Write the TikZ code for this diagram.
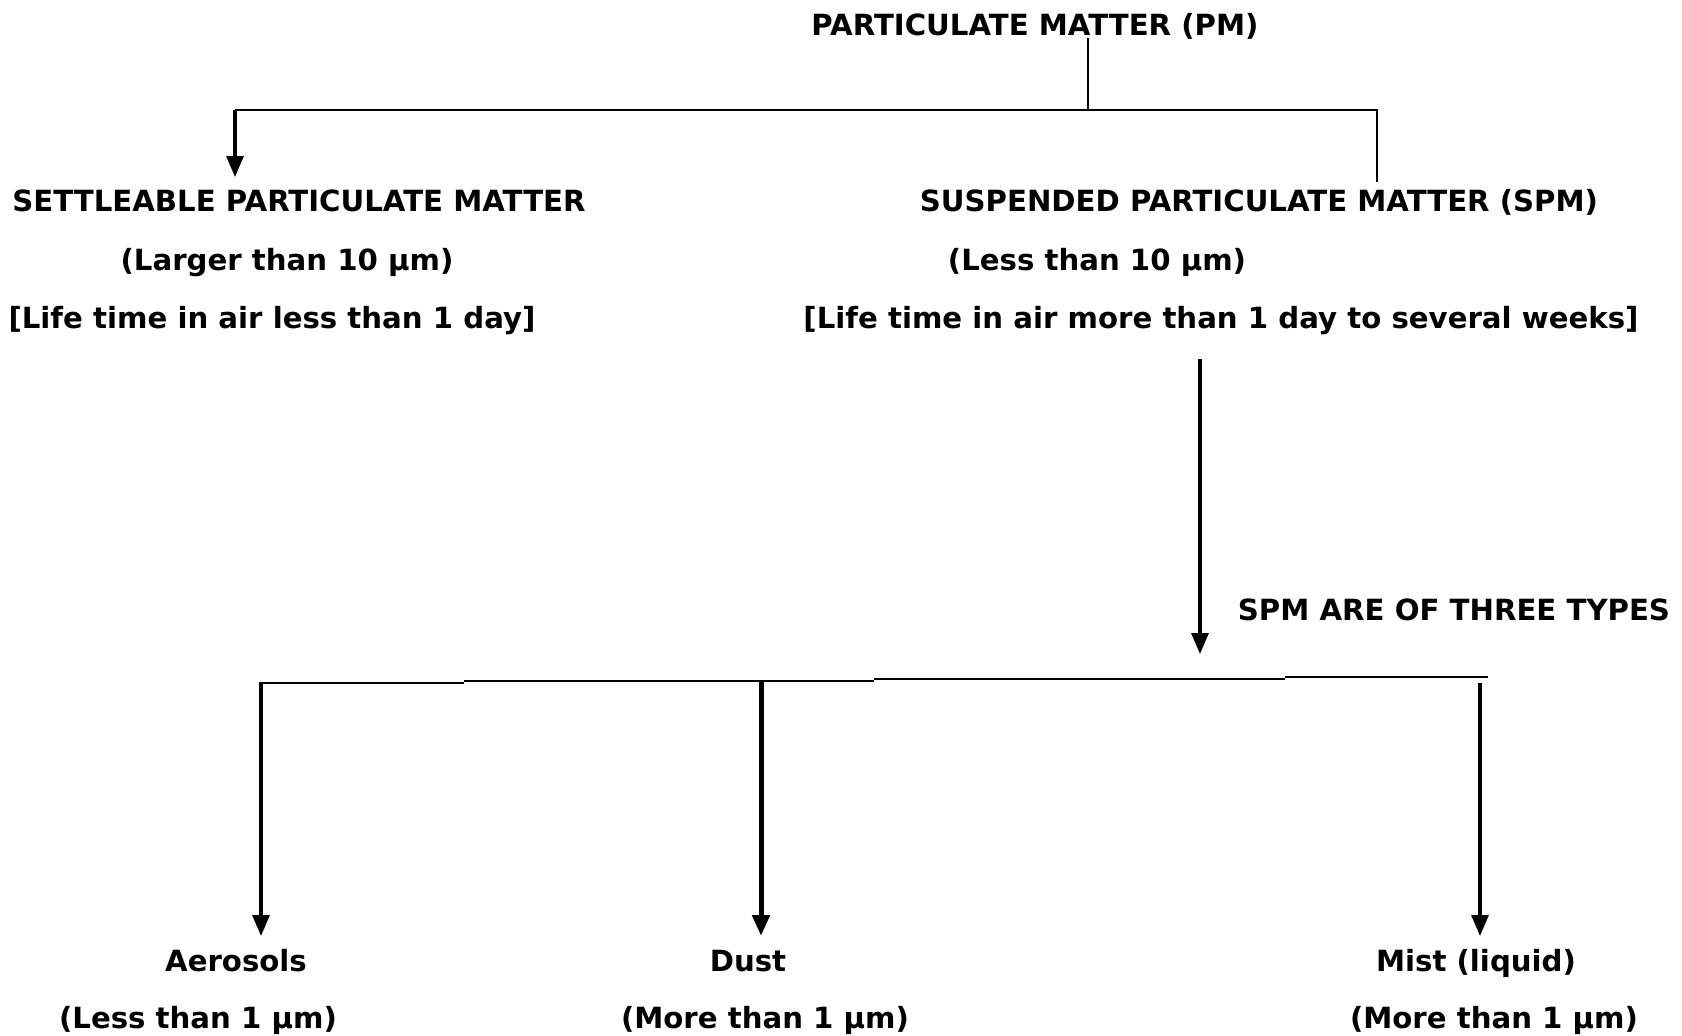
\documentclass[tikz,border=0pt]{standalone}
\usepackage{fontspec}
\setmainfont{DejaVu Sans}
\usetikzlibrary{arrows.meta}
\begin{document}
\begin{tikzpicture}[x=1pt,y=-1pt,
  lbl/.style={font=\fontsize{29.2}{35}\selectfont\bfseries, inner sep=0pt, anchor=base},
  conn/.style={line width=2.2pt},
  arr/.style={line width=3.2pt, -{Triangle[width=17pt,length=21pt]}},
  thickarr/.style={arr, line width=5pt},
]
\useasboundingbox (0,0) rectangle (1682,1036);
% texts
\node[lbl] (pm) at (1035,35) {PARTICULATE MATTER (PM)};
\node[lbl] (set1) at (299,211) {SETTLEABLE PARTICULATE MATTER};
\node[lbl] (set2) at (287,270) {(Larger than 10 µm)};
\node[lbl] (set3) at (272,328) {[Life time in air less than 1 day]};
\node[lbl] (spm1) at (1259,211) {SUSPENDED PARTICULATE MATTER (SPM)};
\node[lbl] (spm2) at (1097,270) {(Less than 10 µm)};
\node[lbl] (spm3) at (1221,328) {[Life time in air more than 1 day to several weeks]};
\node[lbl] (types) at (1454,620) {SPM ARE OF THREE TYPES};
\node[lbl] (aer1) at (236,971) {Aerosols};
\node[lbl] (aer2) at (198,1028) {(Less than 1 µm)};
\node[lbl] (dust1) at (748,971) {Dust};
\node[lbl] (dust2) at (765,1028) {(More than 1 µm)};
\node[lbl] (mist1) at (1476,971) {Mist (liquid)};
\node[lbl] (mist2) at (1494,1028) {(More than 1 µm)};
% junction coordinates
\coordinate (pmtop) at (1088,38);
\coordinate (j0) at (1088,110);
\coordinate (jl) at (235,110);
\coordinate (jr) at (1377,110);
\coordinate (srend) at (1377,182);
\coordinate (settop) at (235,177);
\coordinate (spmbot) at (1200,359);
\coordinate (barin) at (1200,654);
\coordinate (b1) at (261,683);
\coordinate (b1e) at (464,683);
\coordinate (b2) at (464,681);
\coordinate (b2e) at (874,681);
\coordinate (b3) at (874,679);
\coordinate (b3e) at (1285,679);
\coordinate (b4) at (1285,677);
\coordinate (b4e) at (1488,677);
\coordinate (a1top) at (261,682);
\coordinate (a2top) at (761,681);
\coordinate (a3top) at (1480,683);
\coordinate (a1tip) at (261,936);
\coordinate (a2tip) at (761,936);
\coordinate (a3tip) at (1480,936);
% connectors
\draw[conn] (pmtop) -- (j0);
\draw[conn] (jl) -- (jr) -- (srend);
\draw[arr] (jl) -- (settop);
\draw[arr] (spmbot) -- (barin);
\draw[conn] (b1) -- (b1e);
\draw[conn] (b2) -- (b2e);
\draw[conn] (b3) -- (b3e);
\draw[conn] (b4) -- (b4e);
\draw[arr] (a1top) -- (a1tip);
\draw[thickarr] (a2top) -- (a2tip);
\draw[arr] (a3top) -- (a3tip);
\end{tikzpicture}
\end{document}
